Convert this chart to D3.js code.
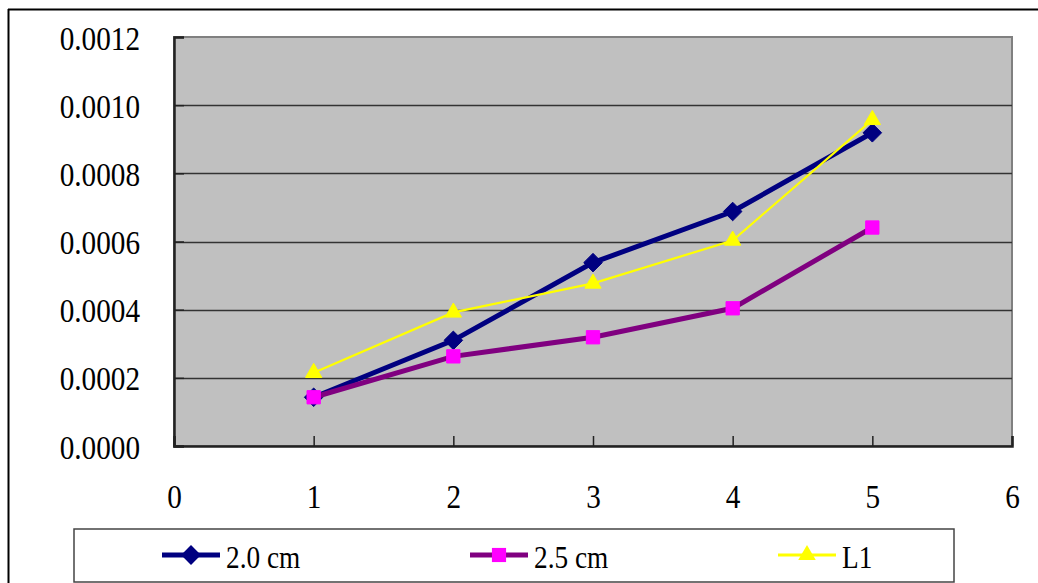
<!DOCTYPE html>
<html>
<head>
<meta charset="utf-8">
<script src="https://cdn.jsdelivr.net/npm/d3@7"></script>
<style>
  html, body { margin: 0; padding: 0; background: #fff; }
  svg { display: block; }
  text { font-family: "Liberation Serif", "DejaVu Serif", serif; fill: #000; }
</style>
</head>
<body>
<svg id="chart" width="1038" height="583"></svg>
<script>
// Measurement positions (x) and series values
const xValues = [1, 2, 3, 4, 5];
const series20 = [0.000143, 0.00031, 0.000538, 0.000688, 0.000919];
const series25 = [0.000143, 0.000263, 0.000319, 0.000404, 0.000641];
const seriesL1 = [0.000215, 0.000392, 0.000477, 0.000603, 0.000957];
const seriesNames = ["2.0 cm", "2.5 cm", "L1"];
const yTicks = [0, 0.0002, 0.0004, 0.0006, 0.0008, 0.0010, 0.0012];
const xTicks = [0, 1, 2, 3, 4, 5, 6];

const svg = d3.select("#chart");

// Outer frame (top and left edges)
svg.append("line").attr("x1", 8).attr("x2", 1038).attr("y1", 9.5).attr("y2", 9.5)
  .attr("stroke", "#000").attr("stroke-width", 2);
svg.append("line").attr("x1", 8.5).attr("x2", 8.5).attr("y1", 9).attr("y2", 583)
  .attr("stroke", "#000").attr("stroke-width", 2);

const plot = { left: 174, right: 1012, top: 37, bottom: 446 };
const x = d3.scaleLinear().domain([0, 6]).range([plot.left, plot.right]);
const y = d3.scaleLinear().domain([0, 0.0012]).range([plot.bottom, plot.top]);

// Plot background with grey border
svg.append("rect")
  .attr("x", plot.left).attr("y", plot.top)
  .attr("width", plot.right - plot.left).attr("height", plot.bottom - plot.top)
  .attr("fill", "#C0C0C0").attr("stroke", "#808080").attr("stroke-width", 2);

// Horizontal gridlines
svg.append("g").selectAll("line").data(yTicks.filter(d => d > 0 && d < 0.0012)).join("line")
  .attr("x1", plot.left).attr("x2", plot.right)
  .attr("y1", d => Math.round(y(d)) + 0.5).attr("y2", d => Math.round(y(d)) + 0.5)
  .attr("stroke", "#333").attr("stroke-width", 1.3);

// Y axis with inside ticks
const yAxis = d3.axisLeft(y).tickValues(yTicks).tickSize(-10).tickPadding(0)
  .tickFormat(d3.format(".4f"));
const yg = svg.append("g").attr("transform", `translate(${plot.left},0)`).call(yAxis);
yg.select(".domain").attr("stroke", "#222").attr("stroke-width", 2.5);
yg.selectAll(".tick line").attr("stroke", "#222").attr("stroke-width", 1.5);
yg.selectAll(".tick text")
  .attr("x", 0).attr("dy", 0)
  .attr("text-anchor", "end")
  .attr("font-size", 34)
  .attr("font-family", "Liberation Serif")
  .attr("fill", "#000")
  .attr("transform", "translate(-34,12) scale(0.86,1)");

// X axis with inside ticks
const xAxis = d3.axisBottom(x).tickValues(xTicks).tickSize(-10).tickPadding(0)
  .tickFormat(d3.format("d"));
const xg = svg.append("g").attr("transform", `translate(0,${plot.bottom})`).call(xAxis);
xg.select(".domain").attr("stroke", "#222").attr("stroke-width", 2.5);
xg.selectAll(".tick line").attr("stroke", "#222").attr("stroke-width", 1.5);
xg.selectAll(".tick text")
  .attr("x", 0).attr("y", 62).attr("dy", 0)
  .attr("font-size", 34)
  .attr("font-family", "Liberation Serif")
  .attr("fill", "#000")
  .attr("transform", "scale(0.86,1)");

// Series definitions
const seriesDefs = [
  { name: seriesNames[0], values: series20, line: "#000080", width: 5, marker: "diamond", fill: "#000080", size: 220 },
  { name: seriesNames[1], values: series25, line: "#800080", width: 5, marker: "square", fill: "#FF00FF", size: 225 },
  { name: seriesNames[2], values: seriesL1, line: "#FFFF00", width: 2.2, marker: "triangle", fill: "#FFFF00", size: 190 }
];
const symbolType = { diamond: d3.symbolDiamond2, square: d3.symbolSquare2, triangle: d3.symbolTriangle2 };

const lineGen = d3.line().x(d => x(d[0])).y(d => y(d[1]));

seriesDefs.forEach(s => {
  const pts = xValues.map((xv, i) => [xv, s.values[i]]);
  svg.append("path").datum(pts)
    .attr("d", lineGen).attr("fill", "none")
    .attr("stroke", s.line).attr("stroke-width", s.width).attr("stroke-linejoin", "miter");
  svg.append("g").selectAll("path").data(pts).join("path")
    .attr("transform", d => `translate(${x(d[0])},${y(d[1])})`)
    .attr("d", d3.symbol().type(symbolType[s.marker]).size(s.size))
    .attr("fill", s.fill).attr("stroke", s.fill).attr("stroke-width", 1);
});

// Legend
const legend = svg.append("g");
legend.append("rect").attr("x", 74).attr("y", 529).attr("width", 880).attr("height", 53)
  .attr("fill", "#fff").attr("stroke", "#444").attr("stroke-width", 1.5);
const legendX = [162, 470, 778];
seriesDefs.forEach((s, i) => {
  const g = legend.append("g").attr("transform", `translate(${legendX[i]},555)`);
  g.append("line").attr("x1", 0).attr("x2", 58).attr("y1", 0).attr("y2", 0)
    .attr("stroke", s.line).attr("stroke-width", s.width === 5 ? 5 : 3);
  g.append("path").attr("transform", "translate(29,0)")
    .attr("d", d3.symbol().type(symbolType[s.marker]).size(s.size + 30))
    .attr("fill", s.fill);
  g.append("text").attr("x", 64).attr("y", 13)
    .attr("font-size", 31)
    .attr("transform", "translate(64,0) scale(0.88,1) translate(-64,0)")
    .text(s.name);
});
</script>
</body>
</html>
